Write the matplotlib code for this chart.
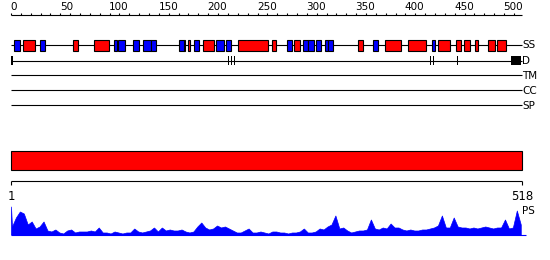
import numpy as np
import matplotlib.pyplot as plt

# sequence length
seq_len = 518

# secondary structure: helices (red) and strands (blue), residue ranges
helix = [(12, 24), (63, 68), (84, 99), (175, 176), (180, 182), (195, 206),
         (230, 261), (265, 269), (287, 293), (352, 357), (379, 396), (403, 421),
         (433, 445), (451, 456), (459, 466), (471, 474), (484, 491), (493, 502)]
strand = [(3, 9), (29, 34), (104, 107), (109, 116), (124, 130), (134, 142),
          (142, 147), (170, 175), (186, 191), (208, 216), (218, 223), (280, 285),
          (296, 301), (301, 307), (309, 314), (318, 322), (322, 327), (367, 372),
          (427, 430)]

# disorder marks
dis_marks = [(0, 2), (220, 221), (223, 224), (226, 227), (425, 426), (428, 429),
             (452, 453), (507, 517)]

# row labels
rows = ["SS", "D", "TM", "CC", "SP"]

# PS profile
ps_pos = [0] + list(range(1, 518, 4))
ps_val = [28, 8, 17, 23, 21, 10, 13, 6, 8, 13, 4, 3, 5, 2, 1, 4, 5, 2, 3, 3, 3,
          4, 3, 7, 2, 2, 1, 3, 2, 1, 2, 2, 6, 3, 2, 3, 4, 7, 3, 7, 4, 5, 4, 4,
          5, 3, 2, 3, 8, 12, 7, 5, 6, 9, 7, 8, 6, 4, 2, 2, 4, 6, 2, 2, 3, 2, 1,
          3, 3, 2, 2, 1, 2, 2, 3, 6, 2, 2, 3, 6, 5, 8, 10, 19, 6, 7, 4, 2, 3, 4,
          4, 5, 15, 6, 5, 7, 6, 11, 7, 7, 5, 4, 5, 4, 4, 5, 5, 6, 7, 9, 19, 7,
          7, 17, 8, 7, 7, 6, 7, 6, 7, 8, 7, 6, 7, 7, 15, 6, 7, 24, 10]

fig = plt.figure(figsize=(5.5, 2.6), dpi=100)
ax = fig.add_axes([0, 0, 1, 1])
ax.set_xlim(-11.16, 546.65)
ax.set_ylim(260, 0)
ax.axis("off")
fs = 7.5
lw = 0.8

# ruler at top
ax.hlines(15, 0, seq_len, color="black", lw=lw)
ax.vlines(range(0, seq_len, 10), 12.5, 15, color="black", lw=lw)
for v in range(0, 501, 50):
    ax.text(v - 0.5, 9.5, str(v), fontsize=fs, ha="left", va="baseline")

# SS row
ax.hlines(45, 0, seq_len, color="black", lw=lw, zorder=1)
for s, e in helix:
    ax.bar(s, 10.2, width=e - s, bottom=40.3, align="edge", color="red",
           edgecolor="black", lw=lw, zorder=2)
for s, e in strand:
    ax.bar(s, 10.2, width=e - s, bottom=40.3, align="edge", color="blue",
           edgecolor="black", lw=lw, zorder=2)

# D row
ax.hlines(60.5, 0, seq_len, color="black", lw=lw, zorder=1)
for s, e in dis_marks:
    ax.bar(s, 9.8, width=e - s, bottom=55.7, align="edge", color="black",
           lw=0, zorder=2)

# TM / CC / SP rows
for y in [75, 90, 105]:
    ax.hlines(y, 0, seq_len, color="black", lw=lw)

for lab, y in zip(rows, [45.5, 61, 76, 91, 106]):
    ax.text(seq_len + 0.5, y, lab, fontsize=fs, ha="left", va="center")

# domain bar
ax.bar(0, 19.3, width=seq_len, bottom=150.7, align="edge", color="red",
       edgecolor="black", lw=lw)

# sequence scale
ax.hlines(180.7, 0, seq_len, color="black", lw=lw)
ax.vlines([0, seq_len], 180.7, 184.5, color="black", lw=lw)
ax.text(0, 196, "1", fontsize=fs + 1, ha="center", va="center")
ax.text(seq_len, 196, str(seq_len), fontsize=fs + 1, ha="center", va="center")

# PS profile
base = 234.5
ps_y = base - np.array(ps_val)
ax.fill_between(ps_pos, base, ps_y, color="blue", lw=0.5)
ax.hlines(base, 0, seq_len + 4, color="blue", lw=lw)
ax.text(seq_len + 0.5, 211, "PS", fontsize=fs, ha="left", va="center")

fig.savefig("out.png", dpi=100)
